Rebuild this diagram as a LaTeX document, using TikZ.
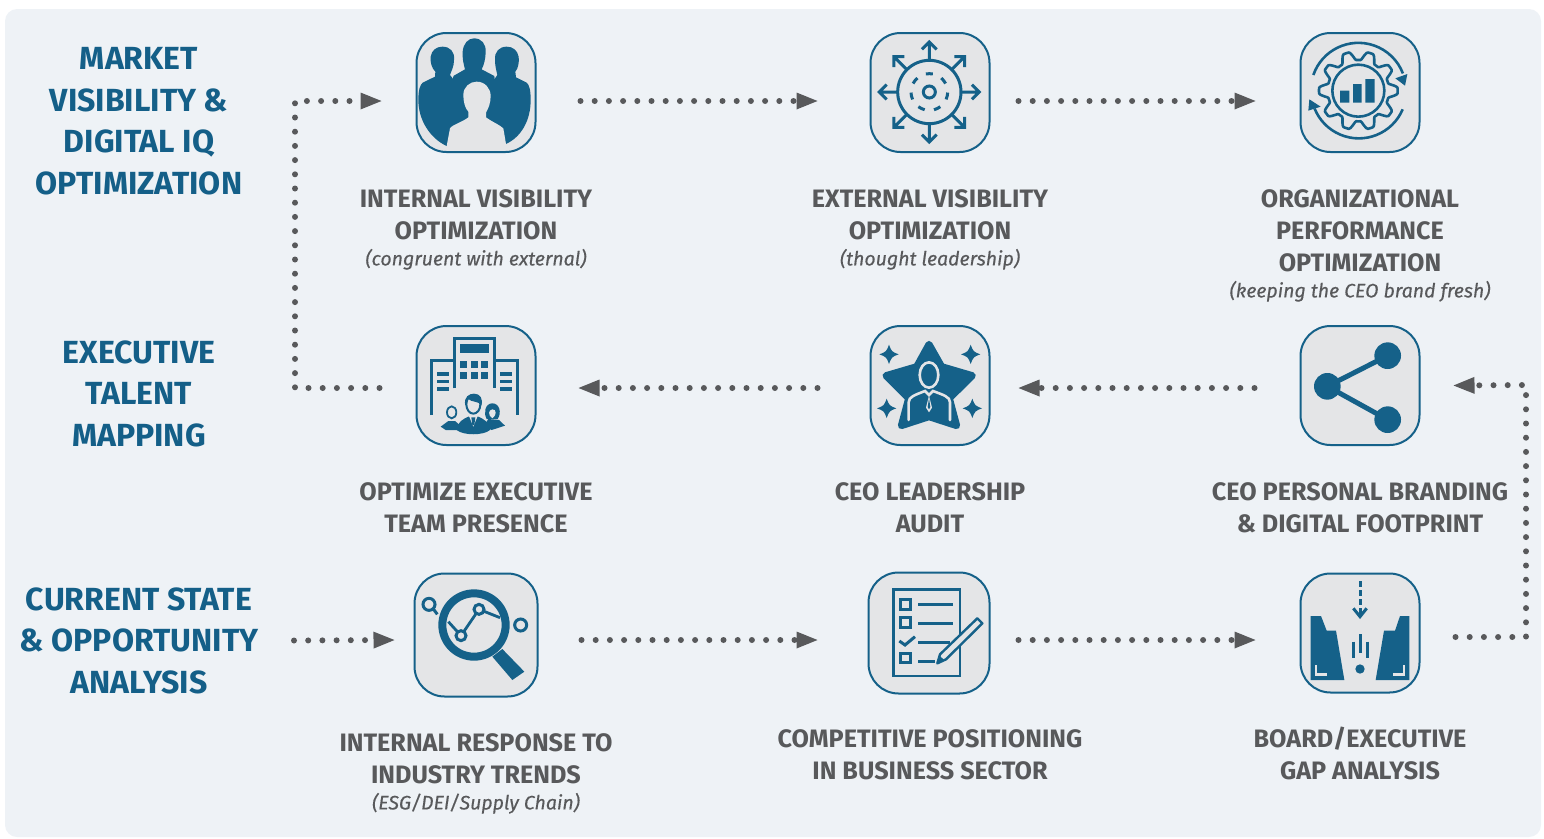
\documentclass[tikz,border=0pt]{standalone}
\usepackage{fontspec}
\setmainfont{Fira Sans}
\usetikzlibrary{arrows.meta}

\definecolor{panelgrey}{HTML}{EEF2F6}
\definecolor{tilegrey}{HTML}{E4E5E7}
\definecolor{inkblue}{HTML}{156189}
\definecolor{headblue}{HTML}{145F88}
\definecolor{textgrey}{HTML}{58595B}

\tikzset{
  icontile/.style={draw=inkblue,fill=tilegrey,line width=2pt,rounded corners=30pt,minimum width=#1,minimum height=#1,inner sep=0pt},
  icontile/.default=119pt,
  flow/.style={draw=textgrey,line width=6pt,line cap=round,dash pattern=on 0pt off 14.2pt,-{Triangle[length=21pt,width=17pt,fill=textgrey,line width=0pt]}},
  headtext/.style={font=\bfseries\fontsize{32}{41.5}\selectfont,text=headblue,align=center},
  labeltext/.style={font=\bfseries\fontsize{25.2}{32}\selectfont,text=textgrey,align=center,anchor=north},
  inkline/.style={draw=inkblue,line width=3pt},
  inkthin/.style={draw=inkblue,line width=2.6pt}
}
\newcommand{\subline}[1]{{\fontsize{19.5}{24}\selectfont\mdseries\itshape\addfontfeature{FakeBold=0.4} #1}}
\newcommand{\sparkle}[3]{\fill[inkblue] (#1-#3,#2) .. controls (#1-8,#2-8) .. (#1,#2-#3) .. controls (#1+8,#2-8) .. (#1+#3,#2) .. controls (#1+8,#2+8) .. (#1,#2+#3) .. controls (#1-8,#2+8) .. cycle;}

\begin{document}
\begin{tikzpicture}[x=1pt,y=-1pt]
  \useasboundingbox (0,0) rectangle (1544,838);
  \fill[panelgrey,rounded corners=12pt] (5,9) rectangle (1541,837);

  % tiles
  \node[icontile] (intvis) at (476,92.5) {};
  \node[icontile] (extvis) at (930,92.5) {};
  \node[icontile] (orgperf) at (1360,92.5) {};
  \node[icontile] (execpres) at (476,385.5) {};
  \node[icontile] (ceoaudit) at (930,385.5) {};
  \node[icontile] (branding) at (1360,385.5) {};
  \node[icontile=123pt] (trends) at (476,635) {};
  \node[icontile=121pt] (compos) at (929,633) {};
  \node[icontile] (gap) at (1360,633) {};

  % headings
  \node[headtext] (market) at (139,121) {MARKET\\VISIBILITY \&\\DIGITAL IQ\\OPTIMIZATION};
  \node[headtext] (talent) at (139,393.5) {EXECUTIVE\\TALENT\\MAPPING};
  \node[headtext] (current) at (139,640.5) {CURRENT STATE\\\& OPPORTUNITY\\ANALYSIS};

  % labels
  \node[labeltext] (intvislabel) at (476,186) {INTERNAL VISIBILITY\\OPTIMIZATION\\[-6pt]\subline{(congruent with external)}};
  \node[labeltext] (extvislabel) at (930,186) {EXTERNAL VISIBILITY\\OPTIMIZATION\\[-6pt]\subline{(thought leadership)}};
  \node[labeltext] (orgperflabel) at (1360,186) {ORGANIZATIONAL\\PERFORMANCE\\OPTIMIZATION\\[-6pt]\subline{(keeping the CEO brand fresh)}};
  \node[labeltext] (execpreslabel) at (476,479) {OPTIMIZE EXECUTIVE\\TEAM PRESENCE};
  \node[labeltext] (ceoauditlabel) at (930,479) {CEO LEADERSHIP\\AUDIT};
  \node[labeltext] (brandinglabel) at (1360,479) {CEO PERSONAL BRANDING\\\& DIGITAL FOOTPRINT};
  \node[labeltext] (trendslabel) at (476,730) {INTERNAL RESPONSE TO\\INDUSTRY TRENDS\\[-6pt]\subline{(ESG/DEI/Supply Chain)}};
  \node[labeltext] (composlabel) at (930,726) {COMPETITIVE POSITIONING\\IN BUSINESS SECTOR};
  \node[labeltext] (gaplabel) at (1360,723) {BOARD/EXECUTIVE\\GAP ANALYSIS};

  % connectors
  \coordinate (lowleft) at (295,388);
  \coordinate (upleft) at (295,101);
  \coordinate (lowright) at (1526,637);
  \coordinate (upright) at (1526,385);
  \draw[flow] ([shift={(155,0)}]current.center) -- ([shift={(-19,5)}]trends.west);
  \draw[flow] ([shift={(43,5)}]trends.east) -- ([shift={(-50,7)}]compos.west);
  \draw[flow] ([shift={(28,7)}]compos.east) -- ([shift={(-44,7)}]gap.west);
  \draw[flow] ([shift={(35,4)}]gap.east) -- (lowright) -- (upright) -- ([shift={(33,0)}]branding.east);
  \draw[flow] ([shift={(-45,2.5)}]branding.west) -- ([shift={(28,2.5)}]ceoaudit.east);
  \draw[flow] ([shift={(-52,2.5)}]ceoaudit.west) -- ([shift={(42,2.5)}]execpres.east);
  \draw[flow] ([shift={(-36,2.5)}]execpres.west) -- (lowleft) -- (upleft) -- ([shift={(-34,8.5)}]intvis.west);
  \draw[flow] ([shift={(44,8.5)}]intvis.east) -- ([shift={(-52,8.5)}]extvis.west);
  \draw[flow] ([shift={(28,8.5)}]extvis.east) -- ([shift={(-44,8.5)}]orgperf.west);

  % people
  \begin{scope}[shift={(400,20)},scale=1/3]
    \fill[inkblue] (140,378) .. controls (90,355) and (55,300) .. (55,240) .. controls (55,210) and (60,195) .. (68,188) -- (105,170) -- (106,155) .. controls (95,145) and (90,125) .. (92,110) .. controls (95,90) and (110,80) .. (127,80) .. controls (150,80) and (165,95) .. (162,120) .. controls (162,140) and (155,150) .. (150,165) -- (158,175) -- (200,300) -- cycle;
    \fill[inkblue] (318,372) .. controls (365,350) and (392,300) .. (392,240) .. controls (392,210) and (388,195) .. (380,188) -- (348,172) -- (346,155) .. controls (355,145) and (358,125) .. (356,110) .. controls (352,90) and (338,80) .. (320,80) .. controls (298,80) and (283,95) .. (285,120) .. controls (285,140) and (290,155) .. (292,165) -- (285,175) -- (250,300) -- cycle;
    \fill[inkblue] (160,168) -- (195,148) .. controls (190,130) and (187,115) .. (188,95) .. controls (190,70) and (205,55) .. (222,55) .. controls (245,55) and (258,72) .. (257,95) .. controls (257,115) and (252,135) .. (245,148) -- (283,168) -- (300,300) -- (150,300) -- cycle;
    \fill[tilegrey] (140,378) -- (150,325) .. controls (155,315) and (190,305) .. (205,292) -- (205,275) .. controls (195,265) and (190,245) .. (190,225) .. controls (190,200) and (210,185) .. (230,185) .. controls (255,185) and (272,205) .. (272,228) .. controls (272,250) and (265,265) .. (258,278) -- (258,292) .. controls (275,305) and (300,315) .. (310,325) -- (318,372) -- cycle;
  \end{scope}

  % outward arrows
  \begin{scope}[shift={(860,20)},scale=1/3]
    \draw[inkline] (208,216) circle (95);
    \draw[inkline] (208,216) circle (18);
    \foreach \a in {0,1,...,6}
      \draw[inkline] ({208+55*cos(-90+\a*360/7-11)},{216+55*sin(-90+\a*360/7-11)}) arc ({-90+\a*360/7-11}:{-90+\a*360/7+11}:55);
    \foreach \a in {0,45,...,315}
      \draw[inkline,rotate around={\a:(208,216)}] (303,216) -- (358,216) (336,194) -- (358,216) -- (336,238);
  \end{scope}

  % gear
  \begin{scope}[shift={(1290,20)},scale=1/3]
    \draw[inkthin,line join=round] plot[domain=0:360,samples=181,smooth] ({205+(105+13*max(-1,min(1,1.5*cos(10*\x))))*cos(\x)},{212+(105+13*max(-1,min(1,1.5*cos(10*\x))))*sin(\x)}) -- cycle;
    \draw[inkthin] (205,212) circle (78);
    \fill[inkblue] (150,212) rectangle (178,248) (189,192) rectangle (215,248) (226,177) rectangle (254,248);
    \draw[inkthin] (70,165) arc (199:339:143);
    \draw[inkthin] (338,268) arc (23:158:143);
    \fill[inkblue] (316,175) -- (352,162) -- (345,197) -- cycle;
    \fill[inkblue] (58,238) -- (92,260) -- (55,272) -- cycle;
  \end{scope}

  % offices
  \begin{scope}[shift={(405,315)},scale=1/3]
    \draw[inkline] (149,220) -- (149,70) -- (268,70) -- (268,220);
    \draw[inkline] (78,300) -- (78,135) -- (149,135) (268,135) -- (338,135) -- (338,300);
    \fill[inkblue] (165,87) rectangle (252,115);
    \foreach \x in {165,197,229}
      \foreach \y in {138,172}
        \fill[inkblue] (\x,\y) rectangle ++(21,20);
    \foreach \x in {95,285}
      \foreach \y in {172,195,217}
        \fill[inkblue] (\x,\y) rectangle ++(37,10);
    \fill[inkblue] (107,335) -- (130,318) -- (150,318) -- (170,335) -- (170,345) -- (122,345) -- cycle;
    \fill[inkblue] (235,335) -- (250,312) -- (282,315) -- (300,332) -- (260,345) -- cycle;
    \draw[inkblue,line width=1.8pt,fill=tilegrey] (140,292) ellipse (14 and 18);
    \fill[inkblue] (262,265) .. controls (285,265) and (290,295) .. (278,312) -- (245,312) .. controls (235,295) and (240,265) .. cycle;
    \fill[tilegrey] (262,283) .. controls (275,283) and (276,300) .. (262,310) .. controls (248,300) and (250,285) .. cycle;
    \fill[inkblue] (155,345) .. controls (157,320) and (175,312) .. (190,305) -- (220,305) .. controls (235,312) and (253,320) .. (255,345) .. controls (235,362) and (175,362) .. cycle;
    \fill[tilegrey] (192,303) -- (205,335) -- (218,303) -- cycle;
    \fill[inkblue] (199,307) -- (211,307) -- (208,330) -- (202,330) -- cycle;
    \draw[inkblue,line width=2pt,fill=tilegrey] (205,268) ellipse (21 and 28);
    \fill[inkblue] (181,272) .. controls (175,245) and (193,236) .. (207,236) .. controls (225,236) and (235,250) .. (229,272) .. controls (225,258) and (198,262) .. (190,252) .. controls (187,258) and (185,265) .. cycle;
  \end{scope}

  % star
  \begin{scope}[shift={(860,315)},scale=1/3]
    \filldraw[inkblue,line width=7pt,line join=round] (207,88) -- (245,155) -- (337,182) -- (268,250) -- (290,332) -- (207,305) -- (124,332) -- (146,250) -- (78,182) -- (170,155) -- cycle;
    \draw[tilegrey,line width=2.6pt] (207,180) ellipse (28 and 38);
    \draw[tilegrey,line width=2.6pt,line cap=round] (146,315) -- (146,262) .. controls (146,245) and (165,240) .. (195,228) -- (207,240) -- (219,228) .. controls (250,240) and (270,245) .. (270,262) -- (270,315);
    \fill[tilegrey] (207,242) -- (216,278) -- (207,292) -- (198,278) -- cycle;
    \fill[inkblue] (207,250) -- (211,276) -- (207,283) -- (203,276) -- cycle;
    \sparkle{87}{118}{29}
    \sparkle{332}{118}{29}
    \sparkle{80}{280}{29}
    \sparkle{337}{280}{29}
  \end{scope}

  % share
  \begin{scope}[shift={(1290,315)},scale=1/3]
    \draw[inkblue,line width=5pt] (293,122) -- (112,214) -- (293,314);
    \fill[inkblue] (112,214) circle (40) (293,122) circle (40) (293,314) circle (40);
  \end{scope}

  % magnifier
  \begin{scope}[shift={(405,565)},scale=1/3]
    \draw[inkblue,line width=2.8pt] (130,170) -- (168,212) -- (222,133) -- (285,158);
    \draw[inkblue,line width=3pt,fill=tilegrey] (168,212) circle (15) (222,133) circle (15);
    \draw[inkblue,line width=8pt] (207,180) circle (95);
    \fill[inkblue] (292,252) -- (358,320) -- (322,345) -- (262,275) -- cycle;
    \draw[inkblue,line width=3pt] (72,118) circle (18) (85,132) -- (97,148);
    \draw[inkblue,line width=3pt] (347,180) circle (18);
  \end{scope}

  % checklist
  \begin{scope}[shift={(860,565)},scale=1/3]
    \draw[inkthin] (100,73) rectangle (300,333);
    \draw[inkline] (122,103) rectangle (150,133) (122,158) rectangle (150,187) (122,265) rectangle (150,293);
    \draw[inkline] (118,228) -- (135,240) -- (165,215);
    \draw[inkline] (175,118) -- (280,118) (175,176) -- (280,176) (175,232) -- (270,232) (175,290) -- (225,290);
    \filldraw[draw=inkblue,fill=tilegrey,line width=2.4pt,line join=round] (240,268) -- (352,160) -- (367,175) -- (258,283) -- (232,295) -- cycle;
    \fill[inkblue] (238,272) -- (254,286) -- (232,295) -- cycle;
  \end{scope}

  % gap
  \begin{scope}[shift={(1290,565)},scale=1/3]
    \draw[inkline,dash pattern=on 6pt off 3pt] (210,48) -- (210,150);
    \draw[inkline] (190,130) -- (210,155) -- (230,130);
    \fill[inkblue] (62,153) -- (93,153) -- (110,197) -- (138,197) -- (163,345) -- (62,345) -- cycle;
    \fill[inkblue] (358,153) -- (330,153) -- (315,197) -- (282,197) -- (257,345) -- (358,345) -- cycle;
    \draw[tilegrey,line width=2.4pt] (78,300) -- (78,328) -- (110,328) (342,300) -- (342,328) -- (310,328);
    \fill[inkblue] (210,312) circle (14);
    \draw[inkline] (190,230) -- (190,280) (212,208) -- (212,265) (232,230) -- (232,280);
  \end{scope}
\end{tikzpicture}
\end{document}
